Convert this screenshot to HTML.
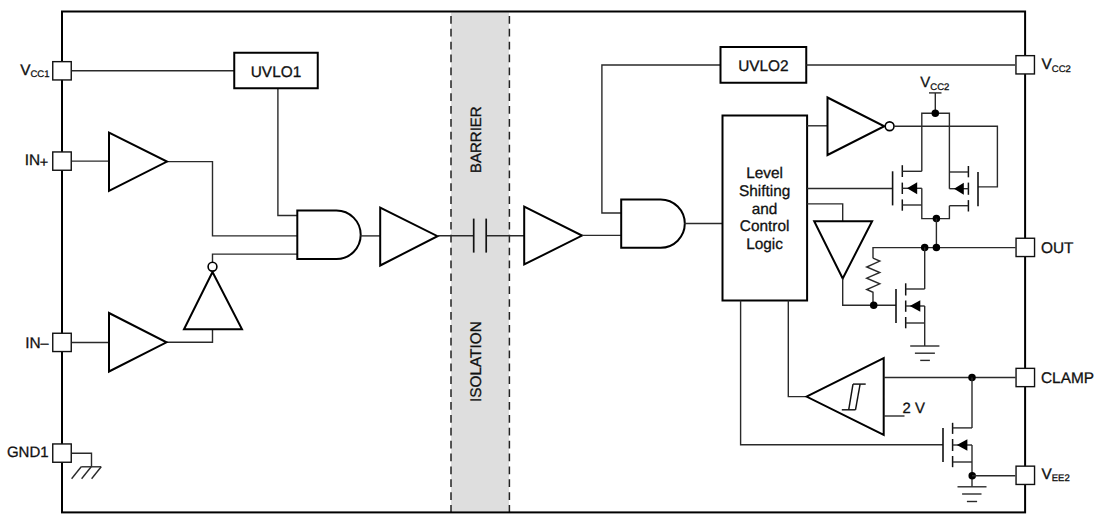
<!DOCTYPE html>
<html><head><meta charset="utf-8"><style>
html,body{margin:0;padding:0;background:#fff;width:1100px;height:527px;overflow:hidden}
svg{display:block}
text{font-family:"Liberation Sans",sans-serif;fill:#111;stroke:#111;stroke-width:0.3px;text-rendering:geometricPrecision}
</style></head><body>
<svg width="1100" height="527" viewBox="0 0 1100 527">
<rect width="1100" height="527" fill="#fff"/>
<rect x="451" y="12.5" width="58" height="499" fill="#dedede"/>
<line x1="451.0" y1="16" x2="451.0" y2="512" stroke="#222" stroke-width="1.5" stroke-dasharray="7.7 5.17"/>
<line x1="509.4" y1="16" x2="509.4" y2="512" stroke="#222" stroke-width="1.5" stroke-dasharray="7.7 5.17"/>
<rect x="62" y="11.5" width="963.1" height="500.9" fill="none" stroke="#000" stroke-width="2"/>
<path d="M72,70.7 L234.25,70.7" fill="none" stroke="#2a2a2a" stroke-width="1.4"/>
<path d="M277.9,88.25 L277.9,215.5 L297.3,215.5" fill="none" stroke="#2a2a2a" stroke-width="1.4"/>
<path d="M72,161.1 L109,161.1" fill="none" stroke="#2a2a2a" stroke-width="1.4"/>
<path d="M167,161.6 L212.5,161.6 L212.5,235.9 L297.3,235.9" fill="none" stroke="#2a2a2a" stroke-width="1.4"/>
<path d="M72,342.5 L109,342.5" fill="none" stroke="#2a2a2a" stroke-width="1.4"/>
<path d="M166.5,342.3 L212.5,342.3 L212.5,329.3" fill="none" stroke="#2a2a2a" stroke-width="1.4"/>
<path d="M212.5,262 L212.5,254.1 L297.3,254.1" fill="none" stroke="#2a2a2a" stroke-width="1.4"/>
<path d="M72,453.2 L91.5,453.2 L91.5,466.8" fill="none" stroke="#2a2a2a" stroke-width="1.4"/>
<path d="M81.2,466.8 L101.2,466.8" fill="none" stroke="#2a2a2a" stroke-width="1.4"/>
<path d="M101.2,466.8 L91.60000000000001,478.8" fill="none" stroke="#2a2a2a" stroke-width="1.4"/>
<path d="M91.2,466.8 L81.60000000000001,478.8" fill="none" stroke="#2a2a2a" stroke-width="1.4"/>
<path d="M81.2,466.8 L71.60000000000001,478.8" fill="none" stroke="#2a2a2a" stroke-width="1.4"/>
<rect x="234.25" y="52.75" width="83.5" height="35.5" fill="#fff" stroke="#000" stroke-width="2"/>
<text x="276" y="76.7" font-size="15.4" text-anchor="middle" >UVLO1</text>
<polygon points="109,132.5 109,190.8 167,161.6" fill="#fff" stroke="#000" stroke-width="2" stroke-linejoin="miter"/>
<polygon points="109,313 109,371.5 166.5,342.3" fill="#fff" stroke="#000" stroke-width="2" stroke-linejoin="miter"/>
<polygon points="184,329.3 242,329.3 212.5,272" fill="#fff" stroke="#000" stroke-width="2" stroke-linejoin="miter"/>
<circle cx="212.5" cy="266.7" r="4.4" fill="#fff" stroke="#000" stroke-width="1.6"/>
<path d="M297.3,210.5 H336.4 A24.3,24.3 0 0 1 336.4,259.1 H297.3 Z" fill="#fff" stroke="#000" stroke-width="2" stroke-linejoin="miter"/>
<path d="M360.2,235.9 L380.2,235.9" fill="none" stroke="#2a2a2a" stroke-width="1.4"/>
<polygon points="380.2,207.5 380.2,265.5 437.5,236.2" fill="#fff" stroke="#000" stroke-width="2" stroke-linejoin="miter"/>
<path d="M437.5,235.8 L473.6,235.8" fill="none" stroke="#2a2a2a" stroke-width="1.4"/>
<path d="M486.2,235.8 L524.2,235.8" fill="none" stroke="#2a2a2a" stroke-width="1.4"/>
<path d="M473.7,218.6 L473.7,252.6" fill="none" stroke="#111" stroke-width="1.7"/>
<path d="M486.2,218.6 L486.2,252.6" fill="none" stroke="#111" stroke-width="1.7"/>
<polygon points="524.2,206.7 524.2,264.5 582,235.6" fill="#fff" stroke="#000" stroke-width="2" stroke-linejoin="miter"/>
<path d="M582,235.4 L621.2,235.4" fill="none" stroke="#2a2a2a" stroke-width="1.4"/>
<path d="M720.5,65 L601.9,65 L601.9,213 L621.2,213" fill="none" stroke="#2a2a2a" stroke-width="1.4"/>
<rect x="720.5" y="47" width="85.75" height="35.75" fill="#fff" stroke="#000" stroke-width="2"/>
<text x="763.4" y="70.5" font-size="15.4" text-anchor="middle" >UVLO2</text>
<path d="M806.25,65 L1015,65" fill="none" stroke="#2a2a2a" stroke-width="1.4"/>
<path d="M621.2,199.4 H660.6 A24.2,24.2 0 0 1 660.6,247.8 H621.2 Z" fill="#fff" stroke="#000" stroke-width="2" stroke-linejoin="miter"/>
<path d="M684.3,223.5 L722.5,223.5" fill="none" stroke="#2a2a2a" stroke-width="1.4"/>
<rect x="722.5" y="115.5" width="84.6" height="185" fill="#fff" stroke="#000" stroke-width="2"/>
<text x="764.6" y="178.0" font-size="15.4" text-anchor="middle" >Level</text>
<text x="764.6" y="195.8" font-size="15.4" text-anchor="middle" >Shifting</text>
<text x="764.6" y="213.6" font-size="15.4" text-anchor="middle" >and</text>
<text x="764.6" y="231.4" font-size="15.4" text-anchor="middle" >Control</text>
<text x="764.6" y="249.2" font-size="15.4" text-anchor="middle" >Logic</text>
<path d="M807,125.8 L827.5,125.8" fill="none" stroke="#2a2a2a" stroke-width="1.4"/>
<polygon points="827.5,97.5 827.5,155 884.3,126.25" fill="#fff" stroke="#000" stroke-width="2" stroke-linejoin="miter"/>
<circle cx="889.6" cy="126.25" r="4.4" fill="#fff" stroke="#000" stroke-width="1.6"/>
<path d="M894,126.25 L997.4,126.25 L997.4,186.9 L978,186.9" fill="none" stroke="#2a2a2a" stroke-width="1.4"/>
<path d="M807.1,188.5 L892.6,188.5" fill="none" stroke="#2a2a2a" stroke-width="1.4"/>
<path d="M892.6,171.3 L892.6,205.4" fill="none" stroke="#111" stroke-width="1.6"/>
<text x="920.3" y="87.2" font-size="15" text-anchor="start" >V<tspan font-size="9.5" dy="2.4">CC2</tspan></text>
<path d="M929,92.9 L941.5,92.9" fill="none" stroke="#2a2a2a" stroke-width="1.4"/>
<path d="M935.3,92.9 L935.3,113.3" fill="none" stroke="#2a2a2a" stroke-width="1.4"/>
<path d="M921.8,171.3 L921.8,113.3 L949.4,113.3 L949.4,188.7" fill="none" stroke="#2a2a2a" stroke-width="1.4"/>
<circle cx="935.3" cy="113.3" r="3.75" fill="#000"/>
<path d="M902.3,165.2 L902.3,177" fill="none" stroke="#111" stroke-width="1.5"/>
<path d="M902.3,182.6 L902.3,194" fill="none" stroke="#111" stroke-width="1.5"/>
<path d="M902.3,199.4 L902.3,210.7" fill="none" stroke="#111" stroke-width="1.5"/>
<path d="M902.3,171.3 L921.8,171.3" fill="none" stroke="#2a2a2a" stroke-width="1.4"/>
<path d="M902.3,188.3 L921.8,188.3" fill="none" stroke="#2a2a2a" stroke-width="1.4"/>
<path d="M902.3,205 L921.8,205" fill="none" stroke="#2a2a2a" stroke-width="1.4"/>
<polygon points="907,188.3 917.2,182.3 917.2,194.3" fill="#000"/>
<path d="M921.8,188.3 L921.8,218.6 L949.4,218.6 L949.4,205.7" fill="none" stroke="#2a2a2a" stroke-width="1.4"/>
<path d="M968.4,166 L968.4,177.3" fill="none" stroke="#111" stroke-width="1.5"/>
<path d="M968.4,182.6 L968.4,194.8" fill="none" stroke="#111" stroke-width="1.5"/>
<path d="M968.4,200.1 L968.4,211.5" fill="none" stroke="#111" stroke-width="1.5"/>
<path d="M968.4,172 L949.4,172" fill="none" stroke="#2a2a2a" stroke-width="1.4"/>
<path d="M968.4,188.7 L949.4,188.7" fill="none" stroke="#2a2a2a" stroke-width="1.4"/>
<path d="M968.4,205.7 L949.4,205.7" fill="none" stroke="#2a2a2a" stroke-width="1.4"/>
<polygon points="954,188.7 963.8,182.7 963.8,194.7" fill="#000"/>
<path d="M978,172 L978,206.2" fill="none" stroke="#111" stroke-width="1.6"/>
<circle cx="936.4" cy="218.6" r="3.75" fill="#000"/>
<path d="M936.4,218.6 L936.4,247.6" fill="none" stroke="#2a2a2a" stroke-width="1.4"/>
<path d="M873,258.2 L873,247.6 L1015.5,247.6" fill="none" stroke="#2a2a2a" stroke-width="1.4"/>
<circle cx="924.7" cy="247.6" r="3.75" fill="#000"/>
<circle cx="936.4" cy="247.6" r="3.75" fill="#000"/>
<path d="M807.1,203.9 L842.7,203.9 L842.7,221.3" fill="none" stroke="#2a2a2a" stroke-width="1.4"/>
<polygon points="814.2,221.3 872.1,221.3 842.7,278.5" fill="#fff" stroke="#000" stroke-width="2" stroke-linejoin="miter"/>
<path d="M842.7,278.5 L842.7,305.3 L896,305.3" fill="none" stroke="#2a2a2a" stroke-width="1.4"/>
<path d="M873,258.2 L879.8,261.1 L866.7,267 L879.8,272.5 L866.7,278.2 L879.8,283.8 L866.7,289.5 L873,292.3 L873,305.3" fill="none" stroke="#2a2a2a" stroke-width="1.4"/>
<circle cx="873.7" cy="305.3" r="3.75" fill="#000"/>
<path d="M896,289 L896,323.1" fill="none" stroke="#111" stroke-width="1.6"/>
<path d="M905.7,283.3 L905.7,295.5" fill="none" stroke="#111" stroke-width="1.5"/>
<path d="M905.7,300.5 L905.7,311.8" fill="none" stroke="#111" stroke-width="1.5"/>
<path d="M905.7,317 L905.7,328.3" fill="none" stroke="#111" stroke-width="1.5"/>
<path d="M905.7,289 L924.7,289" fill="none" stroke="#2a2a2a" stroke-width="1.4"/>
<path d="M905.7,306 L924.7,306" fill="none" stroke="#2a2a2a" stroke-width="1.4"/>
<path d="M905.7,323 L924.7,323" fill="none" stroke="#2a2a2a" stroke-width="1.4"/>
<polygon points="909.8,306 920.3,300.2 920.3,311.8" fill="#000"/>
<path d="M924.7,247.6 L924.7,289" fill="none" stroke="#2a2a2a" stroke-width="1.4"/>
<path d="M924.7,306 L924.7,346" fill="none" stroke="#2a2a2a" stroke-width="1.4"/>
<path d="M910.2,346 L939.4,346" fill="none" stroke="#2a2a2a" stroke-width="1.4"/>
<path d="M914.9,353.2 L934.9,353.2" fill="none" stroke="#2a2a2a" stroke-width="1.4"/>
<path d="M920.2,360.4 L929.9,360.4" fill="none" stroke="#2a2a2a" stroke-width="1.4"/>
<path d="M740.6,300.5 L740.6,444.7 L943,444.7" fill="none" stroke="#2a2a2a" stroke-width="1.4"/>
<path d="M788.3,300.5 L788.3,396.6 L806.5,396.6" fill="none" stroke="#2a2a2a" stroke-width="1.4"/>
<polygon points="806.5,396.6 883.7,358.2 883.7,434.8" fill="#fff" stroke="#000" stroke-width="2" stroke-linejoin="miter"/>
<path d="M853,384.1 L865.7,384.1" fill="none" stroke="#111" stroke-width="1.45"/>
<path d="M841.8,409.8 L855.5,409.8" fill="none" stroke="#111" stroke-width="1.45"/>
<path d="M853,384.1 L848.7,409.8" fill="none" stroke="#111" stroke-width="1.45"/>
<path d="M860.1,384.1 L855.5,409.8" fill="none" stroke="#111" stroke-width="1.45"/>
<path d="M883.7,377.5 L1015.5,377.5" fill="none" stroke="#2a2a2a" stroke-width="1.4"/>
<path d="M883.7,416 L904.5,416" fill="none" stroke="#2a2a2a" stroke-width="1.4"/>
<text x="902.5" y="413.2" font-size="14.9" text-anchor="start" >2 V</text>
<circle cx="972" cy="377.5" r="3.75" fill="#000"/>
<path d="M943,427.9 L943,462" fill="none" stroke="#111" stroke-width="1.6"/>
<path d="M952.6,422.8 L952.6,433.9" fill="none" stroke="#111" stroke-width="1.5"/>
<path d="M952.6,439 L952.6,451" fill="none" stroke="#111" stroke-width="1.5"/>
<path d="M952.6,456 L952.6,467.2" fill="none" stroke="#111" stroke-width="1.5"/>
<path d="M952.6,427.9 L972,427.9" fill="none" stroke="#2a2a2a" stroke-width="1.4"/>
<path d="M952.6,445 L972,445" fill="none" stroke="#2a2a2a" stroke-width="1.4"/>
<path d="M952.6,462 L972,462" fill="none" stroke="#2a2a2a" stroke-width="1.4"/>
<polygon points="956.8,445 967.4,439.2 967.4,450.8" fill="#000"/>
<path d="M972,377.5 L972,427.9" fill="none" stroke="#2a2a2a" stroke-width="1.4"/>
<path d="M972,445 L972,486.8" fill="none" stroke="#2a2a2a" stroke-width="1.4"/>
<circle cx="972.2" cy="475.7" r="3.75" fill="#000"/>
<path d="M972,475.7 L1015.3,475.7" fill="none" stroke="#2a2a2a" stroke-width="1.4"/>
<path d="M957.5,486.8 L986.5,486.8" fill="none" stroke="#2a2a2a" stroke-width="1.4"/>
<path d="M962.1,494 L981.5,494" fill="none" stroke="#2a2a2a" stroke-width="1.4"/>
<path d="M966.9,501.5 L977.1,501.5" fill="none" stroke="#2a2a2a" stroke-width="1.4"/>
<rect x="52.75" y="61.65" width="18.5" height="18.3" fill="#fff" stroke="#111" stroke-width="1.4"/>
<rect x="52.75" y="151.95" width="18.5" height="18.3" fill="#fff" stroke="#111" stroke-width="1.4"/>
<rect x="52.75" y="333.25" width="18.5" height="18.3" fill="#fff" stroke="#111" stroke-width="1.4"/>
<rect x="52.75" y="443.95000000000005" width="18.5" height="18.3" fill="#fff" stroke="#111" stroke-width="1.4"/>
<rect x="1015.95" y="55.65" width="18.5" height="18.3" fill="#fff" stroke="#111" stroke-width="1.4"/>
<rect x="1016.05" y="238.25" width="18.5" height="18.3" fill="#fff" stroke="#111" stroke-width="1.4"/>
<rect x="1016.05" y="368.35" width="18.5" height="18.3" fill="#fff" stroke="#111" stroke-width="1.4"/>
<rect x="1016.05" y="466.15000000000003" width="18.5" height="18.3" fill="#fff" stroke="#111" stroke-width="1.4"/>
<text x="20.2" y="75.2" font-size="15.4" text-anchor="start" >V<tspan font-size="9.5" dy="2.1">CC1</tspan></text>
<text x="24.7" y="165.4" font-size="15.4" text-anchor="start" >IN<tspan dx="-0.3" dy="2" font-size="14.5">+</tspan></text>
<text x="25.2" y="347.5" font-size="15.4" text-anchor="start" >IN<tspan font-size="14.5">–</tspan></text>
<text x="6.9" y="457.2" font-size="15" text-anchor="start" >GND1</text>
<text x="1041.5" y="69.2" font-size="15.4" text-anchor="start" >V<tspan font-size="9.5" dy="2.4">CC2</tspan></text>
<text x="1041" y="252.9" font-size="15.4" text-anchor="start" >OUT</text>
<text x="1041" y="382.5" font-size="15.4" text-anchor="start" >CLAMP</text>
<text x="1041.5" y="479" font-size="15.4" text-anchor="start" >V<tspan font-size="9.5" dy="2.2">EE2</tspan></text>
<text x="481.4" y="173" font-size="15" text-anchor="start" transform="rotate(-90 481.4 173)">BARRIER</text>
<text x="481.5" y="402.1" font-size="15.4" text-anchor="start" transform="rotate(-90 481.5 402.1)">ISOLATION</text>
</svg>
</body></html>
